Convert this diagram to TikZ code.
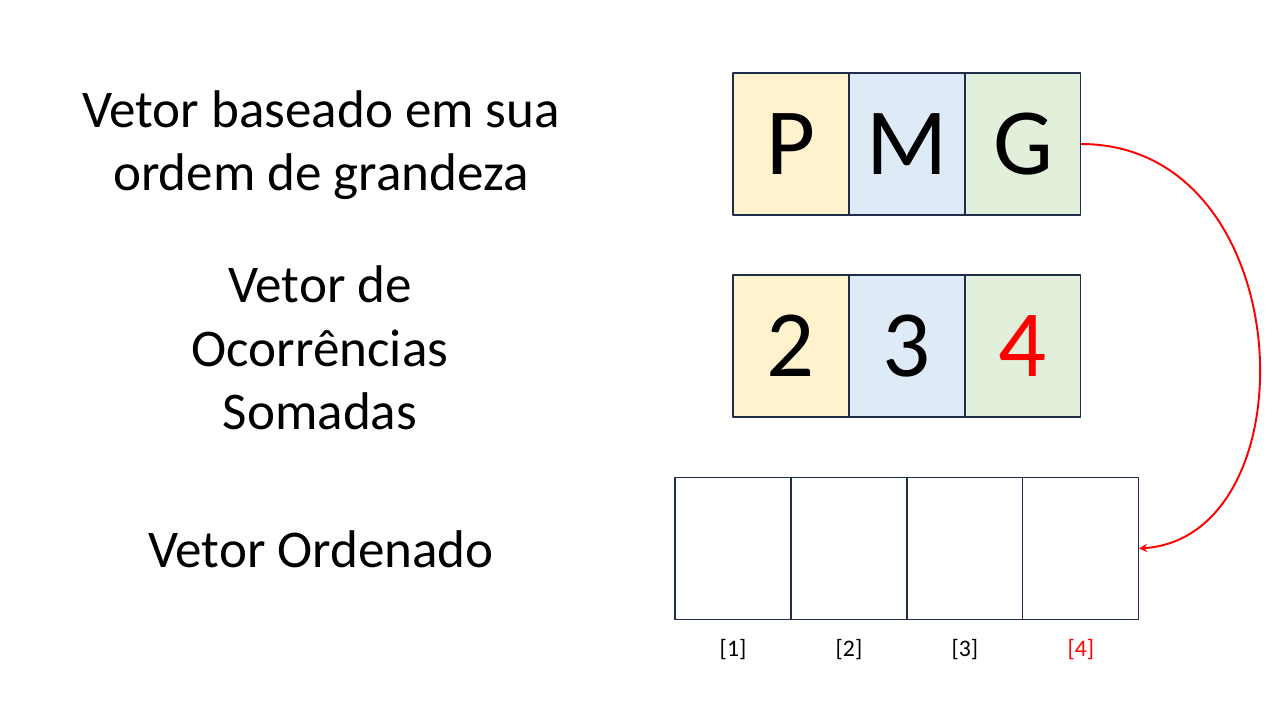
\documentclass[tikz,border=0pt]{standalone}
\usepackage{fontspec}
\setmainfont{Carlito}
\usetikzlibrary{positioning}
\definecolor{borda}{HTML}{1F2D4B}
\definecolor{amarelo}{HTML}{FFF2CC}
\definecolor{azul}{HTML}{DEEBF7}
\definecolor{verde}{HTML}{E2EFDA}
\definecolor{vermelho}{HTML}{FF0000}

\begin{document}
\begin{tikzpicture}[x=0.02cm,y=-0.02cm,line join=round,>=stealth,
  cell/.style={draw=borda,line width=0.6pt,minimum width=2.32cm,minimum height=2.84cm,inner sep=0pt,outer sep=0pt,font=\fontsize{54}{54}\selectfont},
  rotulo/.style={align=center,inner sep=0pt,font=\fontsize{30.2}{36}\selectfont},
  indice/.style={inner sep=0pt,font=\fontsize{13.5}{14}\selectfont}]
  \useasboundingbox (0,0) rectangle (1280,720);
  % textos da esquerda
  \node[rotulo] (t1) at (321,145) {Vetor baseado em sua\\ordem de grandeza};
  \node[rotulo] (t2) at (320,348) {Vetor de\\Ocorrências\\Somadas};
  \node[rotulo] (t3) at (321,549) {Vetor Ordenado};
  % vetor P M G
  \node[cell,fill=amarelo] (p) at (791,144) {P};
  \node[cell,fill=azul,right=0pt of p] (m) {M};
  \node[cell,fill=verde,right=0pt of m] (g) {G};
  % vetor de ocorrencias
  \node[cell,fill=amarelo] (c2) at (791,346) {2};
  \node[cell,fill=azul,right=0pt of c2] (c3) {3};
  \node[cell,fill=verde,right=0pt of c3,text=vermelho] (c4) {4};
  % vetor ordenado
  \node[cell] (o1) at (733,548.5) {};
  \node[cell,right=0pt of o1] (o2) {};
  \node[cell,right=0pt of o2] (o3) {};
  \node[cell,right=0pt of o3] (o4) {};
  \foreach \i in {1,2,3}
    \node[indice,below=11pt of o\i.south] (i\i) {[\i]};
  \node[indice,below=11pt of o4.south,text=vermelho] (i4) {[4]};
  % seta
  \draw[->,vermelho,line width=1.1pt] (g.east) .. controls +(220,0) and +(175,-12) .. (o4.east);
\end{tikzpicture}
\end{document}
